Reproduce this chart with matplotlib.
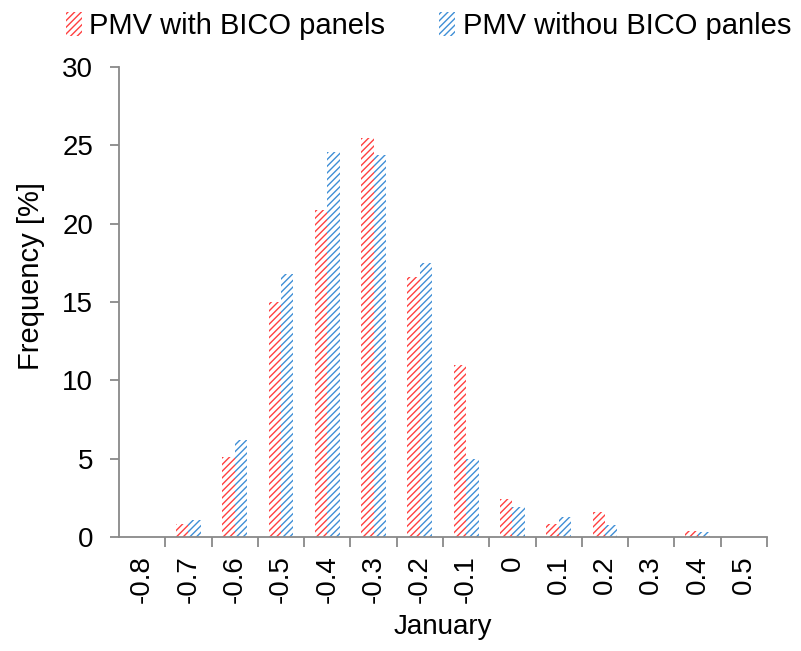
import matplotlib.pyplot as plt
import numpy as np

plt.rcParams['font.family'] = ['Liberation Sans', 'DejaVu Sans']
plt.rcParams['hatch.linewidth'] = 1.0

# PMV 分布（%）
categories = ['-0.8', '-0.7', '-0.6', '-0.5', '-0.4', '-0.3', '-0.2',
              '-0.1', '0', '0.1', '0.2', '0.3', '0.4', '0.5']
with_bico = [0, 0.8, 5.1, 15.0, 20.9, 25.5, 16.6, 11.0, 2.4, 0.8, 1.6, 0, 0.4, 0]
without_bico = [0, 1.1, 6.2, 16.8, 24.6, 24.4, 17.5, 5.0, 1.9, 1.3, 0.75, 0, 0.35, 0]

red = '#ff4040'
blue = '#3f8fd6'
grey = '#898989'

fig = plt.figure(figsize=(8.01, 6.51), dpi=100)
ax = fig.add_axes([119 / 801, 1 - 537 / 651, 648 / 801, 470 / 651])

x = np.arange(len(categories))
w = 0.27
ax.bar(x - w / 2, with_bico, w, color='white', edgecolor=red, hatch='/////',
       linewidth=0, label='PMV with BICO panels')
ax.bar(x + w / 2, without_bico, w, color='white', edgecolor=blue, hatch='/////',
       linewidth=0, label='PMV withou BICO panles')

ax.set_xlim(-0.5, len(categories) - 0.5)
ax.set_ylim(0, 30)
ax.set_yticks(range(0, 31, 5))

# 类别标签居中，刻度线在类别之间
ax.set_xticks(x)
ax.set_xticklabels(categories, rotation=90)
ax.set_xticks(np.arange(len(categories)) + 0.5, minor=True)
ax.tick_params(axis='x', which='major', length=0, pad=13, labelsize=20)
ax.tick_params(axis='x', which='minor', length=7, width=1.3, color=grey)
ax.tick_params(axis='y', length=6.5, width=1.3, color=grey, labelsize=20, pad=12)

for s in ['top', 'right']:
    ax.spines[s].set_visible(False)
for s in ['left', 'bottom']:
    ax.spines[s].set_color(grey)
    ax.spines[s].set_linewidth(1.3)

ax.set_xlabel('January', fontsize=20, labelpad=8)
ax.set_ylabel('Frequency [%]', fontsize=21)
ax.yaxis.set_label_coords(-0.114, 0.555)

fig.legend(loc='upper center', bbox_to_anchor=(0.535, 1.022), ncol=2, frameon=False,
           fontsize=21, handlelength=0.55, handleheight=0.9, handletextpad=0.25,
           columnspacing=1.85)

fig.savefig('out.png', dpi=100)
